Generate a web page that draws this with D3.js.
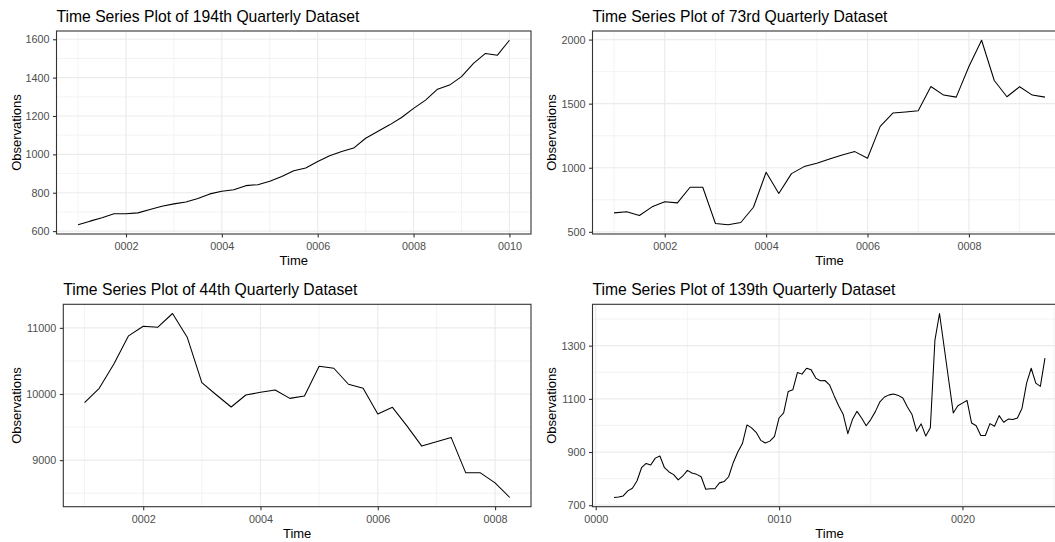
<!DOCTYPE html>
<html>
<head>
<meta charset="utf-8">
<script src="https://cdn.jsdelivr.net/npm/d3@7"></script>
<style>
  html, body { margin: 0; padding: 0; background: #fff; }
  svg { display: block; }
  text { font-family: "Liberation Sans", Arial, sans-serif; }
</style>
</head>
<body>
<div id="chart"></div>
<script>
// ---------------- DATA ----------------
const titles = [
  "Time Series Plot of 194th Quarterly Dataset",
  "Time Series Plot of 73rd Quarterly Dataset",
  "Time Series Plot of 44th Quarterly Dataset",
  "Time Series Plot of 139th Quarterly Dataset"
];
const startYear = 1;      // every series starts at year 0001, quarter 1
const frequency = 4;      // quarterly

const series194 = [633,652,669,690,690,695,712,730,742,752,770,794,808,816,837,842,860,885,
  915,929,963,993,1015,1033,1084,1119,1154,1192,1240,1283,1340,1361,1405,1474,1526,1517,1595];
const series73 = [648,656,627,695,734,726,848,848,565,555,573,692,965,799,954,1009,1035,1069,
  1100,1126,1074,1323,1427,1435,1445,1634,1567,1551,1790,1995,1681,1554,1632,1567,1551];
const series44 = [9869,10086,10455,10879,11025,11010,11217,10859,10172,9985,9803,9985,10025,
  10061,9934,9970,10419,10389,10147,10086,9697,9798,9515,9212,9278,9344,8808,8808,8657,8435];
const series139 = [729,731,735,754,764,791,841,857,851,877,885,841,825,815,795,810,831,821,816,
  807,760,762,762,784,789,807,860,900,932,1002,991,974,944,934,941,959,1028,1047,1128,1134,
  1199,1193,1215,1209,1178,1168,1169,1153,1112,1074,1041,969,1022,1053,1028,999,1022,1052,
  1089,1107,1115,1118,1113,1103,1069,1041,978,1006,960,991,1321,1421,1296,1171,1047,1074,
  1084,1094,1009,999,962,962,1007,997,1037,1012,1024,1022,1028,1065,1159,1215,1159,1147,1253];

// tick breaks (major / minor)
const xMajor194 = [2,4,6,8,10],  xMinor194 = [1,3,5,7,9];
const xMajor73  = [2,4,6,8],     xMinor73  = [1,3,5,7,9];
const xMajor44  = [2,4,6,8],     xMinor44  = [1,3,5,7];
const xMajor139 = [0,10,20],     xMinor139 = [5,15,25];
const yMajor194 = [600,800,1000,1200,1400,1600], yMinor194 = [700,900,1100,1300,1500];
const yMajor73  = [500,1000,1500,2000],          yMinor73  = [750,1250,1750];
const yMajor44  = [9000,10000,11000],            yMinor44  = [8500,9500,10500];
const yMajor139 = [700,900,1100,1300],           yMinor139 = [800,1000,1200,1400];

// ---------------- LAYOUT ----------------
const W = 1055, H = 542;
const panels = [
  { title: titles[0], values: series194, xMajor: xMajor194, xMinor: xMinor194, yMajor: yMajor194, yMinor: yMinor194,
    box: { L: 56.5, R: 531, T: 31, B: 234 }, ytx: 20.7 },
  { title: titles[1], values: series73, xMajor: xMajor73, xMinor: xMinor73, yMajor: yMajor73, yMinor: yMinor73,
    box: { L: 592.5, R: 1066.5, T: 31, B: 234 }, ytx: 556.2 },
  { title: titles[2], values: series44, xMajor: xMajor44, xMinor: xMinor44, yMajor: yMajor44, yMinor: yMinor44,
    box: { L: 63.3, R: 531, T: 304.3, B: 506.7 }, ytx: 20.7 },
  { title: titles[3], values: series139, xMajor: xMajor139, xMinor: xMinor139, yMajor: yMajor139, yMinor: yMinor139,
    box: { L: 592.5, R: 1066.5, T: 304.3, B: 506.7 }, ytx: 556.2 }
];

const svg = d3.select("#chart").append("svg")
  .attr("width", W).attr("height", H)
  .attr("viewBox", `0 0 ${W} ${H}`);

const fmtYear = d3.format("04d");

function expand(ext, mult) {
  const r = ext[1] - ext[0];
  return [ext[0] - r * mult, ext[1] + r * mult];
}

panels.forEach((p, pi) => {
  const data = p.values.map((v, i) => ({ t: startYear + i / frequency, v }));
  const b = p.box;
  const x = d3.scaleLinear().domain(expand(d3.extent(data, d => d.t), 0.05)).range([b.L, b.R]);
  const y = d3.scaleLinear().domain(expand(d3.extent(data, d => d.v), 0.05)).range([b.B, b.T]);

  const g = svg.append("g");
  const clipId = "clip" + pi;
  svg.append("defs").append("clipPath").attr("id", clipId)
    .append("rect").attr("x", b.L).attr("y", b.T).attr("width", b.R - b.L).attr("height", b.B - b.T);

  // panel background
  g.append("rect").attr("x", b.L).attr("y", b.T).attr("width", b.R - b.L).attr("height", b.B - b.T)
    .attr("fill", "#FFFFFF");

  const grid = g.append("g").attr("clip-path", `url(#${clipId})`);
  // minor grid
  grid.selectAll(".ymin").data(p.yMinor.filter(v => v >= y.domain()[0] && v <= y.domain()[1])).join("line")
    .attr("x1", b.L).attr("x2", b.R).attr("y1", d => y(d)).attr("y2", d => y(d))
    .attr("stroke", "#EBEBEB").attr("stroke-width", 0.6);
  grid.selectAll(".xmin").data(p.xMinor.filter(v => v >= x.domain()[0] && v <= x.domain()[1])).join("line")
    .attr("y1", b.T).attr("y2", b.B).attr("x1", d => x(d)).attr("x2", d => x(d))
    .attr("stroke", "#EBEBEB").attr("stroke-width", 0.6);
  // major grid
  grid.selectAll(".ymaj").data(p.yMajor).join("line")
    .attr("x1", b.L).attr("x2", b.R).attr("y1", d => y(d)).attr("y2", d => y(d))
    .attr("stroke", "#EBEBEB").attr("stroke-width", 1.2);
  grid.selectAll(".xmaj").data(p.xMajor).join("line")
    .attr("y1", b.T).attr("y2", b.B).attr("x1", d => x(d)).attr("x2", d => x(d))
    .attr("stroke", "#EBEBEB").attr("stroke-width", 1.2);

  // series line
  const line = d3.line().x(d => x(d.t)).y(d => y(d.v));
  g.append("path").datum(data)
    .attr("clip-path", `url(#${clipId})`)
    .attr("d", line).attr("fill", "none").attr("stroke", "#000000")
    .attr("stroke-width", 1.05).attr("stroke-linejoin", "round");

  // border
  g.append("rect").attr("x", b.L).attr("y", b.T).attr("width", b.R - b.L).attr("height", b.B - b.T)
    .attr("fill", "none").attr("stroke", "#333333").attr("stroke-width", 1.1);

  // axes
  const yAxis = d3.axisLeft(y).tickValues(p.yMajor).tickSize(3.5).tickPadding(3.6).tickFormat(d3.format("d"));
  const ya = g.append("g").attr("transform", `translate(${b.L},0)`).call(yAxis);
  const xAxis = d3.axisBottom(x).tickValues(p.xMajor).tickSize(3.5).tickPadding(5.2).tickFormat(fmtYear);
  const xa = g.append("g").attr("transform", `translate(0,${b.B})`).call(xAxis);
  [ya, xa].forEach(a => {
    a.select(".domain").remove();
    a.selectAll(".tick line").attr("stroke", "#333333").attr("stroke-width", 1.1);
    a.selectAll(".tick text").attr("fill", "#4D4D4D").style("font-size", "10.8px")
      .style("font-family", '"Liberation Sans", Arial, sans-serif');
  });

  // titles
  g.append("text").attr("x", b.L).attr("y", b.T - 9.3)
    .style("font-size", "15.7px").attr("fill", "#000").text(p.title);
  g.append("text").attr("x", (b.L + Math.min(b.R, b.R)) / 2).attr("y", b.B + 31)
    .attr("text-anchor", "middle").style("font-size", "13px").attr("fill", "#000").text("Time");
  g.append("text")
    .attr("transform", `translate(${p.ytx},${(b.T + b.B) / 2}) rotate(-90)`)
    .attr("text-anchor", "middle").style("font-size", "13px").attr("fill", "#000").text("Observations");
});
</script>
</body>
</html>
